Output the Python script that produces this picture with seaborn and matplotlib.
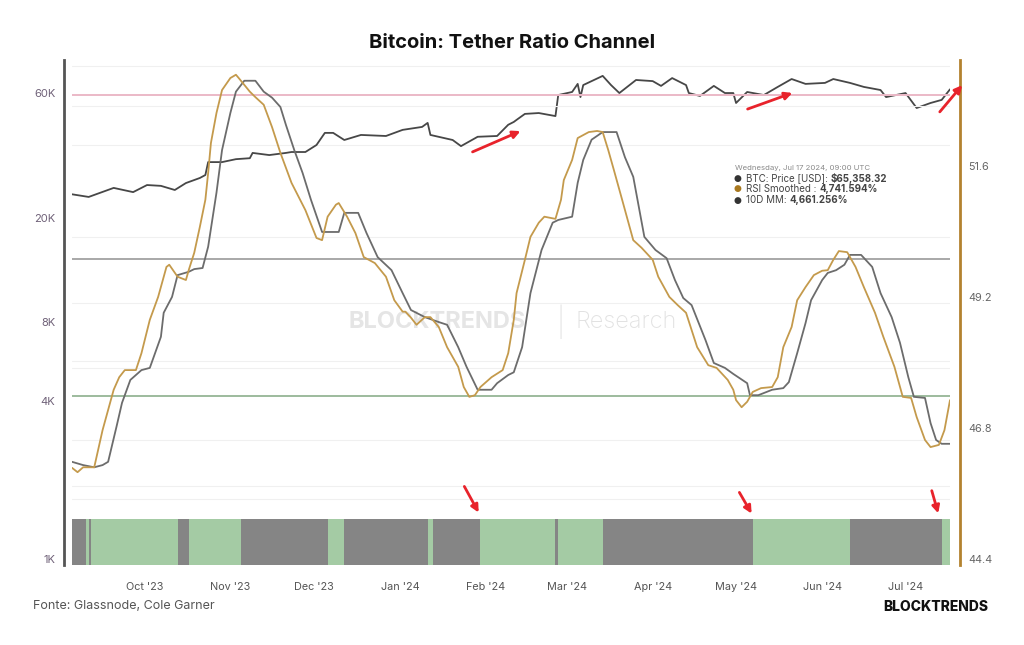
import matplotlib
matplotlib.use("Agg")
import pandas as pd
import matplotlib.pyplot as plt
import matplotlib.dates as mdates
from matplotlib.ticker import FixedLocator, FuncFormatter, NullFormatter
from matplotlib.patches import FancyArrowPatch
import seaborn as sns

sns.set_theme(style="white")
plt.rcParams["font.family"] = ["Inter", "DejaVu Sans"]

# BTC price (thousand USD)
btc_dates = ["2023-09-05", "2023-09-11", "2023-09-20", "2023-09-27", "2023-10-02", "2023-10-07",
             "2023-10-12", "2023-10-16", "2023-10-21", "2023-10-23", "2023-10-24", "2023-10-29",
             "2023-11-03", "2023-11-08", "2023-11-09", "2023-11-15", "2023-11-21", "2023-11-23",
             "2023-11-28", "2023-12-02", "2023-12-05", "2023-12-08", "2023-12-12", "2023-12-18",
             "2023-12-27", "2024-01-02", "2024-01-09", "2024-01-11", "2024-01-12", "2024-01-20",
             "2024-01-23", "2024-01-29", "2024-02-05", "2024-02-09", "2024-02-11", "2024-02-12",
             "2024-02-15", "2024-02-20", "2024-02-26", "2024-02-27", "2024-03-03", "2024-03-05",
             "2024-03-06", "2024-03-07", "2024-03-14", "2024-03-17", "2024-03-20", "2024-03-26",
             "2024-04-01", "2024-04-04", "2024-04-08", "2024-04-13", "2024-04-14", "2024-04-18",
             "2024-04-23", "2024-04-27", "2024-04-30", "2024-05-01", "2024-05-05", "2024-05-11",
             "2024-05-16", "2024-05-21", "2024-05-26", "2024-06-02", "2024-06-05", "2024-06-11",
             "2024-06-16", "2024-06-22", "2024-06-24", "2024-07-01", "2024-07-05", "2024-07-10",
             "2024-07-14", "2024-07-17"]
btc_price_k = [26.0, 25.4, 27.5, 26.5, 28.2, 28.0, 27.0, 28.7, 30.0, 30.8, 34.5, 34.5,
               35.4, 35.7, 37.4, 36.7, 37.4, 37.7, 37.7, 40.1, 44.6, 44.6, 41.9, 43.8,
               43.4, 45.8, 47.0, 48.7, 43.8, 41.9, 39.7, 43.1, 43.4, 47.9, 49.1, 50.0,
               52.7, 53.1, 51.7, 62.2, 63.9, 68.6, 61.1, 67.9, 73.6, 67.9, 63.3, 71.0,
               70.3, 67.4, 72.2, 67.9, 63.3, 61.7, 67.4, 63.3, 63.3, 58.0, 63.9, 62.2,
               66.8, 71.6, 68.6, 69.2, 71.6, 69.2, 66.8, 65.0, 61.1, 63.3, 55.5, 58.0,
               59.6, 65.4]

# RSI Smoothed
rsi_dates = ["2023-09-05", "2023-09-07", "2023-09-09", "2023-09-13", "2023-09-16", "2023-09-20",
             "2023-09-22", "2023-09-24", "2023-09-28", "2023-09-30", "2023-10-03", "2023-10-06",
             "2023-10-09", "2023-10-10", "2023-10-13", "2023-10-16", "2023-10-17", "2023-10-19",
             "2023-10-21", "2023-10-23", "2023-10-24", "2023-10-25", "2023-10-27", "2023-10-29",
             "2023-11-01", "2023-11-03", "2023-11-04", "2023-11-08", "2023-11-10", "2023-11-13",
             "2023-11-16", "2023-11-19", "2023-11-23", "2023-11-28", "2023-12-02", "2023-12-04",
             "2023-12-06", "2023-12-09", "2023-12-10", "2023-12-13", "2023-12-16", "2023-12-19",
             "2023-12-23", "2023-12-27", "2023-12-30", "2024-01-02", "2024-01-03", "2024-01-05",
             "2024-01-07", "2024-01-10", "2024-01-12", "2024-01-15", "2024-01-18", "2024-01-22",
             "2024-01-24", "2024-01-26", "2024-01-28", "2024-01-30", "2024-02-03", "2024-02-07",
             "2024-02-09", "2024-02-11", "2024-02-12", "2024-02-15", "2024-02-17", "2024-02-20",
             "2024-02-22", "2024-02-26", "2024-02-28", "2024-02-29", "2024-03-03", "2024-03-05",
             "2024-03-09", "2024-03-12", "2024-03-14", "2024-03-16", "2024-03-18", "2024-03-21",
             "2024-03-25", "2024-03-28", "2024-04-01", "2024-04-03", "2024-04-07", "2024-04-10",
             "2024-04-13", "2024-04-17", "2024-04-21", "2024-04-24", "2024-04-28", "2024-04-30",
             "2024-05-01", "2024-05-03", "2024-05-05", "2024-05-07", "2024-05-10", "2024-05-14",
             "2024-05-16", "2024-05-18", "2024-05-21", "2024-05-23", "2024-05-26", "2024-05-29",
             "2024-06-01", "2024-06-03", "2024-06-05", "2024-06-07", "2024-06-10", "2024-06-13",
             "2024-06-16", "2024-06-20", "2024-06-23", "2024-06-27", "2024-06-30", "2024-07-03",
             "2024-07-05", "2024-07-08", "2024-07-10", "2024-07-13", "2024-07-15", "2024-07-17"]
rsi_values = [46.18, 46.10, 46.19, 46.19, 46.87, 47.61, 47.84, 47.97, 47.97, 48.28, 48.89, 49.31,
              49.86, 49.90, 49.68, 49.62, 49.80, 50.12, 50.59, 51.09, 51.58, 52.13, 52.68, 53.10,
              53.32, 53.38, 53.32, 53.07, 52.97, 52.83, 52.42, 51.95, 51.40, 50.90, 50.39, 50.35,
              50.78, 51.00, 51.03, 50.78, 50.48, 50.04, 49.93, 49.68, 49.25, 49.04, 49.04, 48.93,
              48.80, 48.94, 48.94, 48.76, 48.39, 48.03, 47.66, 47.48, 47.51, 47.66, 47.84, 47.97,
              48.28, 48.89, 49.38, 49.99, 50.41, 50.67, 50.78, 50.74, 51.09, 51.45, 51.82, 52.22,
              52.33, 52.35, 52.33, 52.00, 51.64, 51.09, 50.35, 50.21, 49.99, 49.68, 49.31, 49.16,
              49.02, 48.39, 48.06, 48.01, 47.79, 47.61, 47.42, 47.29, 47.39, 47.57, 47.64, 47.66,
              47.84, 48.39, 48.76, 49.25, 49.49, 49.71, 49.79, 49.80, 49.99, 50.15, 50.13, 49.86,
              49.49, 49.02, 48.58, 48.03, 47.48, 47.46, 47.11, 46.69, 46.56, 46.60, 46.87, 47.42]

# 10D MM
mm_dates = ["2023-09-05", "2023-09-09", "2023-09-13", "2023-09-16", "2023-09-18", "2023-09-21",
            "2023-09-23", "2023-09-26", "2023-09-30", "2023-10-03", "2023-10-07", "2023-10-08",
            "2023-10-11", "2023-10-13", "2023-10-17", "2023-10-19", "2023-10-22", "2023-10-24",
            "2023-10-27", "2023-10-29", "2023-11-01", "2023-11-03", "2023-11-06", "2023-11-10",
            "2023-11-13", "2023-11-16", "2023-11-19", "2023-11-21", "2023-11-24", "2023-11-27",
            "2023-11-30", "2023-12-04", "2023-12-10", "2023-12-12", "2023-12-17", "2023-12-20",
            "2023-12-24", "2023-12-29", "2024-01-02", "2024-01-05", "2024-01-10", "2024-01-15",
            "2024-01-18", "2024-01-22", "2024-01-25", "2024-01-29", "2024-02-03", "2024-02-05",
            "2024-02-09", "2024-02-11", "2024-02-14", "2024-02-17", "2024-02-21", "2024-02-25",
            "2024-02-27", "2024-03-03", "2024-03-05", "2024-03-07", "2024-03-10", "2024-03-14",
            "2024-03-19", "2024-03-22", "2024-03-25", "2024-03-29", "2024-04-02", "2024-04-06",
            "2024-04-09", "2024-04-12", "2024-04-15", "2024-04-20", "2024-04-23", "2024-04-27",
            "2024-04-30", "2024-05-05", "2024-05-06", "2024-05-09", "2024-05-11", "2024-05-14",
            "2024-05-18", "2024-05-20", "2024-05-23", "2024-05-26", "2024-05-28", "2024-06-01",
            "2024-06-03", "2024-06-06", "2024-06-09", "2024-06-11", "2024-06-15", "2024-06-19",
            "2024-06-22", "2024-06-26", "2024-06-29", "2024-07-02", "2024-07-04", "2024-07-08",
            "2024-07-10", "2024-07-12", "2024-07-14", "2024-07-17"]
mm_values = [46.29, 46.23, 46.19, 46.23, 46.29, 46.93, 47.37, 47.79, 47.97, 48.01, 48.58, 49.02,
             49.31, 49.71, 49.77, 49.82, 49.84, 50.23, 51.22, 52.00, 52.68, 53.07, 53.27, 53.27,
             53.07, 52.96, 52.79, 52.46, 52.00, 51.58, 51.09, 50.50, 50.50, 50.85, 50.85, 50.48,
             50.04, 49.80, 49.38, 49.07, 48.94, 48.85, 48.80, 48.39, 48.03, 47.61, 47.61, 47.73,
             47.88, 47.93, 48.39, 49.38, 50.17, 50.67, 50.72, 50.78, 51.40, 51.82, 52.19, 52.33,
             52.33, 51.87, 51.51, 50.41, 50.17, 50.02, 49.62, 49.29, 49.16, 48.52, 48.10, 48.01,
             47.90, 47.73, 47.51, 47.51, 47.55, 47.61, 47.64, 47.75, 48.28, 48.83, 49.25, 49.62,
             49.75, 49.80, 49.90, 50.08, 50.08, 49.86, 49.38, 48.94, 48.47, 47.84, 47.48, 47.46,
             47.00, 46.69, 46.62, 46.62]

# channel levels (right axis)
level_values = [53.0, 50.0, 47.5]
level_colors = ["#ebb9c7", "#a8a8a8", "#9dbb9d"]

# regime bar: start date and state (1 = green, 0 = gray)
regime_starts = ["2023-09-05", "2023-09-10", "2023-09-11", "2023-09-12", "2023-10-13", "2023-10-17",
                 "2023-11-05", "2023-12-06", "2023-12-12", "2024-01-11", "2024-01-13", "2024-01-30",
                 "2024-02-26", "2024-02-27", "2024-03-14", "2024-05-07", "2024-06-11", "2024-07-14"]
regime_states = [0, 1, 0, 1, 0, 1, 0, 1, 0, 1, 0, 1, 0, 1, 0, 1, 0, 1]
regime_end = "2024-07-17"

W, H = 1024, 645
fig = plt.figure(figsize=(W / 100, H / 100), dpi=100)
ax = fig.add_axes([72 / W, 80 / H, 878 / W, 505 / H])
ax2 = ax.twinx()

btc = pd.DataFrame({"date": pd.to_datetime(btc_dates), "price": [p * 1000 for p in btc_price_k]})
rsi = pd.DataFrame({"date": pd.to_datetime(rsi_dates), "value": rsi_values})
mm = pd.DataFrame({"date": pd.to_datetime(mm_dates), "value": mm_values})

sns.lineplot(data=btc, x="date", y="price", ax=ax, color="#474747", linewidth=1.3, legend=False)

for lv, lc in zip(level_values, level_colors):
    ax2.axhline(lv, color=lc, linewidth=1.4, zorder=1)

sns.lineplot(data=mm, x="date", y="value", ax=ax2, color="#6c6c6c", linewidth=1.3, legend=False, zorder=3)
sns.lineplot(data=rsi, x="date", y="value", ax=ax2, color="#c49a4c", linewidth=1.3, legend=False, zorder=4)

ends = regime_starts[1:] + [regime_end]
for s, e, st in zip(regime_starts, ends, regime_states):
    ax2.axvspan(pd.Timestamp(s), pd.Timestamp(e), ymin=0, ymax=46 / 505,
                color="#a4cba4" if st else "#858585", linewidth=0, zorder=2)

ax.set_xlim(pd.Timestamp("2023-09-05"), pd.Timestamp("2024-07-17"))

# spines first (moving a spine rebuilds the ticks)
for a in (ax, ax2):
    for side in ("top", "bottom"):
        a.spines[side].set_visible(False)
ax.spines["right"].set_visible(False)
ax2.spines["left"].set_visible(False)
ax.spines["left"].set_position(("outward", 6))
ax.spines["left"].set_color("#555555")
ax.spines["left"].set_linewidth(2)
ax2.spines["right"].set_position(("outward", 7))
ax2.spines["right"].set_color("#b3822f")
ax2.spines["right"].set_linewidth(2)

# left axis: log price
ax.set_yscale("log")
ax.set_ylim(1000, 84630)
ax.yaxis.set_major_locator(FixedLocator([1000, 4000, 8000, 20000, 60000]))
ax.yaxis.set_major_formatter(FuncFormatter(lambda v, p: f"{int(round(v / 1000))}K"))
ax.yaxis.set_minor_locator(FixedLocator([2000, 3000, 4000, 6000, 8000, 10000, 20000, 40000, 60000, 80000]))
ax.yaxis.set_minor_formatter(NullFormatter())
ax.grid(False)
ax.grid(True, which="minor", axis="y", color="#f0f0f0", linewidth=0.8)
ax.tick_params(axis="y", which="both", length=0, pad=6, labelsize=8, labelcolor="#6f6178")

# right axis: RSI
ax2.set_ylim(44.4, 53.65)
ax2.yaxis.set_major_locator(FixedLocator([44.4, 46.8, 49.2, 51.6]))
ax2.yaxis.set_major_formatter(FuncFormatter(lambda v, p: f"{v:.1f}"))
ax2.yaxis.set_minor_locator(FixedLocator([45.6, 46.8, 48.0, 49.2, 50.4, 51.6, 52.8]))
ax2.yaxis.set_minor_formatter(NullFormatter())
ax2.grid(False)
ax2.grid(True, which="minor", axis="y", color="#f0f0f0", linewidth=0.8)
ax2.tick_params(axis="y", which="both", length=0, pad=6, labelsize=7.8, labelcolor="#666666")

ax.xaxis.set_major_locator(mdates.MonthLocator())
ax.xaxis.set_major_formatter(mdates.DateFormatter("%b '%y"))
ax.tick_params(axis="x", length=8, width=0.8, color="#e6e6e6", pad=4, labelsize=7.8, labelcolor="#555555")
ax.set_xlabel("")
ax.set_ylabel("")
ax2.set_ylabel("")


def fx(x):
    return x / W


def fy(y):
    return 1 - y / H


# watermark
ax.text(fx(437), fy(322), "BLOCKTRENDS", transform=fig.transFigure, ha="center", va="center",
        fontsize=17, fontweight="bold", color="#e5e5e5", zorder=0.5)
ax.text(fx(561), fy(322), "|", transform=fig.transFigure, ha="center", va="center",
        fontsize=20, fontweight="light", color="#e5e5e5", zorder=0.5)
ax.text(fx(626), fy(322), "Research", transform=fig.transFigure, ha="center", va="center",
        fontsize=17, fontweight="light", color="#e2e2e2", zorder=0.5)

# tooltip
fig.text(fx(735), fy(168), "Wednesday, Jul 17 2024, 09:00 UTC", fontsize=5.6, color="#8a8a8a", va="center")
tip_rows = [("BTC: Price [USD]:", "$65,358.32", "#333333", 178),
            ("RSI Smoothed :", "4,741.594%", "#a8781f", 189),
            ("10D MM:", "4,661.256%", "#333333", 200)]
renderer = fig.canvas.get_renderer()
for label, val, dot, yy in tip_rows:
    fig.text(fx(734), fy(yy), "●", fontsize=6.5, color=dot, va="center", family=["DejaVu Sans"])
    t = fig.text(fx(746), fy(yy), label, fontsize=7, color="#444444", va="center")
    right = t.get_window_extent(renderer).x1
    fig.text(fx(right + 3), fy(yy), val, fontsize=7, color="#444444", va="center", fontweight="bold")

# red arrows
arrows = [((470, 153), (523, 130)), ((745, 110), (795, 92)), ((938, 114), (964, 83)),
          ((463, 484), (480, 515)), ((738, 490), (753, 516)), ((931, 488), (939, 516))]
for (x0, y0), (x1, y1) in arrows:
    fig.add_artist(FancyArrowPatch((fx(x0), fy(y0)), (fx(x1), fy(y1)), transform=fig.transFigure,
                                   arrowstyle="-|>", mutation_scale=11, linewidth=2, color="#e8232b"))

fig.text(0.5, fy(43), "Bitcoin: Tether Ratio Channel", ha="center", va="center",
         fontsize=14.5, fontweight="bold", color="#111111")
fig.text(fx(33), fy(606), "Fonte: Glassnode, Cole Garner", ha="left", va="center",
         fontsize=9, color="#555555")
fig.text(fx(988), fy(607), "BLOCKTRENDS", ha="right", va="center",
         fontsize=10, fontweight="heavy", color="#111111")

# lift the y tick labels a little above their grid positions, as in the original
for lbl in ax.get_yticklabels() + ax2.get_yticklabels():
    lbl.set_va("bottom")

fig.savefig("out.png", dpi=100)
